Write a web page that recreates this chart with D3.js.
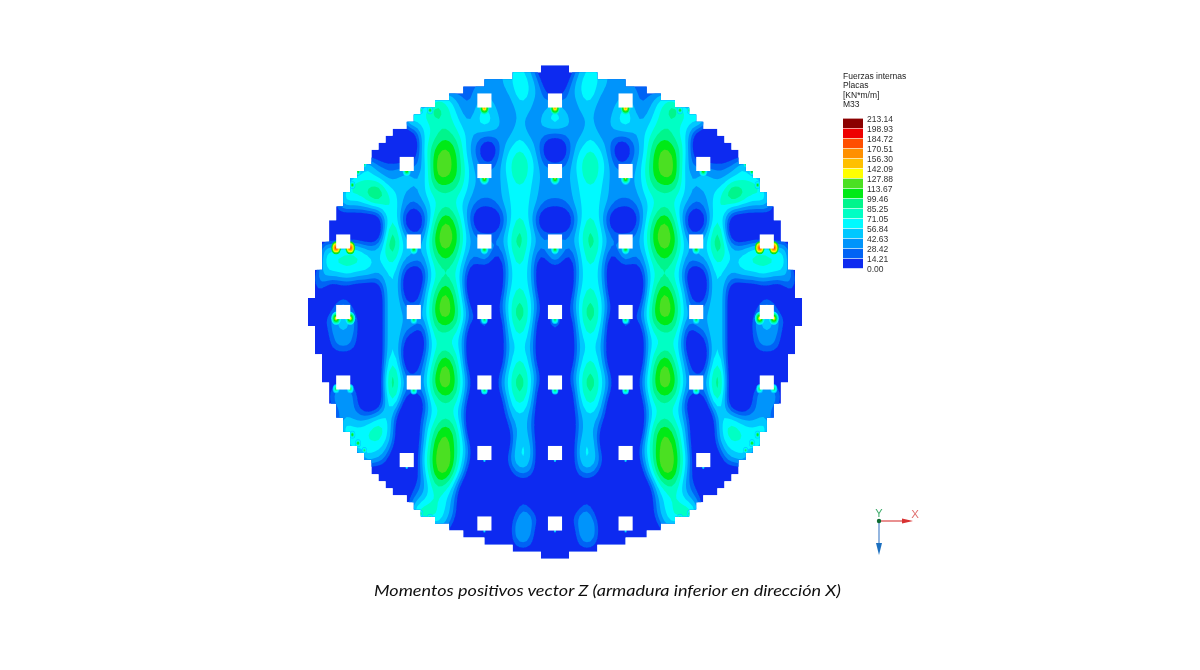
<!DOCTYPE html>
<html><head><meta charset="utf-8">
<style>html,body{margin:0;padding:0;background:#fff}svg{display:block}</style>
<script src="https://cdn.jsdelivr.net/npm/d3@7/dist/d3.min.js"></script>
</head><body><svg id="c" width="1200" height="670"></svg>
<script>
// Legend values (kN*m/m)
const legendBreaks = [0.00,14.21,28.42,42.63,56.84,71.05,85.25,99.46,113.67,127.88,142.09,156.30,170.51,184.72,198.93,213.14];
const legendColors = ["#0a2cf0","#0064f5","#0094fb","#00c8ff","#00faff","#00ffc4","#00f58c","#00ea14","#4ce020","#ffff00","#ffc000","#ff9000","#ff5000","#ee0000","#8b0000"];
const legendTitle = ["Fuerzas internas","Placas","[KN*m/m]","M33"];
const caption = "Momentos positivos vector Z (armadura inferior en dirección X)";

// Left half of the plate, mirrored about the centre: one hex digit = the legend band read at that cell.
const fieldRows = [
"00000 00000 00000 00000 00000 11233 43100 0",
"00000 00000 00000 00000 00112 22234 44310 0",
"00000 00000 00000 00033 32112 22223 54321 0",
"00000 00000 00033 44686 53213 43212 33213 4",
"00000 00000 00006 54455 54324 54322 32234 5",
"00000 00000 00000 03456 65432 22222 42221 1",
"00000 00000 00000 03578 87421 00134 54310 0",
"00000 00063 21111 12489 87532 11245 65421 1",
"00000 06543 32234 32488 87532 32235 55323 3",
"00000 65568 95432 23455 55432 22234 44322 2",
"00003 33334 45532 12345 54321 11234 44321 1",
"00000 00000 03530 00358 86410 00024 54200 0",
"00000 00000 04842 11479 88431 11235 75321 1",
"00444 55533 35843 42478 87422 42135 74313 4",
"00355 55554 34532 21356 65311 21024 54201 2",
"02333 44333 23430 00345 54300 00024 44200 0",
"01100 00000 03430 01458 85300 00034 54300 0",
"00002 32000 03431 11479 87310 00135 75310 0",
"00123 43200 03432 42478 87411 41035 75302 4",
"00012 22100 03431 10355 54300 10024 54200 1",
"00012 32100 03430 00345 44300 00023 43200 0",
"00000 00000 03530 01358 85300 00024 54200 0",
"00000 00000 04841 11479 87310 10135 75310 1",
"00013 33100 04841 31478 87310 30135 75301 3",
"00012 22100 03530 00345 54300 00024 54200 0",
"00001 22223 44300 01345 54200 00013 33100 0",
"00000 84455 74300 01468 86300 00002 33100 0",
"00000 08544 43200 02488 86410 00002 44200 0",
"00000 00053 32000 03589 96310 10013 44200 1",
"00000 00000 00001 02488 84300 00001 22100 0",
"00000 00000 00000 11355 42000 00000 00000 0",
"00000 00000 00001 23454 31000 00000 11000 0",
"00000 00000 00000 68754 31000 00001 23210 0",
"00000 00000 00000 00032 10000 00002 33100 0",
"00000 00000 00000 00000 00000 00001 22100 0",
"00000 00000 00000 00000 00000 00000 00000 0"
];
// Deep-blue cells stand for negative moments, which the legend clips at 0.00.
const clippedMoment = -30;

// Half-width of the stepped plate edge, per mesh row from top to bottom (mesh units).
const plateHalfWidths = [2,6,10,13,15,17,19,20,21,23,24,25,26,26,27,28,29,29,30,30,31,31,32,32,32,33,33,33,33,34,34,34,34,35,35,35,35,34,34,34,34,33,33,33,33,32,32,32,31,31,30,30,29,29,28,27,26,26,25,24,23,21,20,19,17,15,13,10,6,2];

// Slab openings in mesh units: row position, column positions, peak band at the opening's lower edge.
const openingRows = [
 {y:-30, xs:[-10,0,10], peak:11},
 {y:-20, xs:[-10,0,10], peak:9},
 {y:-21, xs:[-21,21], peak:8},
 {y:-10, xs:[-20,-10,0,10,20], peak:8},
 {y:0,   xs:[-20,-10,0,10,20], peak:7},
 {y:10,  xs:[-20,-10,0,10,20], peak:7},
 {y:20,  xs:[-10,0,10], peak:4},
 {y:21,  xs:[-21,21], peak:4},
 {y:30,  xs:[-10,0,10], peak:4}
];
const edgeOpenings = [ {y:-10, peak:13}, {y:0, peak:10}, {y:10, peak:7} ];
const edgeOpeningX = [-30,30];
// Small peaks along the stepped edge (left side, mirrored).
const edgePeaks = [[-28.7,-18,8],[-27.9,-19.9,8],[-27,-20.9,7],[-19.1,-28.6,8],[-17.7,-28.6,8],[-28.7,17.4,8],[-27.9,18.6,8],[-27,19.6,7],[-19.1,28.6,8],[-17.7,29.2,8]];

const svg = d3.select("#c");
const defs = svg.append("defs");
defs.append("filter").attr("id","soft").attr("x","-5%").attr("y","-5%").attr("width","110%").attr("height","110%")
  .append("feGaussianBlur").attr("stdDeviation",0.45);

const x = d3.scaleLinear().domain([-35,35]).range([555-35*7.06,555+35*7.06]);
const y = d3.scaleLinear().domain([-35,35]).range([312-35*7.05,312+35*7.05]);
const bandColor = d3.scaleThreshold().domain(legendBreaks.slice(1,-1)).range(legendColors);
const bandMoment = l => l===0 ? clippedMoment : (l+0.5)*14.21;

// field values
const half = fieldRows.map(r => Array.from(r.replace(/ /g,""), c => bandMoment(parseInt(c,16))));
const grid = half.map(r => r.concat(r.slice(0,-1).reverse()));
const ny0 = grid.length, nx0 = grid[0].length;
// refine the mesh linearly so the contour bands come out rounded
const sx = 2, sy = 4;
const nx = (nx0-1)*sx+1, ny = (ny0-1)*sy+1;
const values = new Array(nx*ny);
for (let j=0;j<ny;j++) for (let i=0;i<nx;i++){
  const fx=i/sx, fy=j/sy, i0=Math.min(nx0-2,Math.floor(fx)), j0=Math.min(ny0-2,Math.floor(fy)), tx=fx-i0, ty=fy-j0;
  values[j*nx+i]=d3.interpolateNumber(
    d3.interpolateNumber(grid[j0][i0],grid[j0][i0+1])(tx),
    d3.interpolateNumber(grid[j0+1][i0],grid[j0+1][i0+1])(tx))(ty);
}
const field = {data:values,width:nx,height:ny};
if (d3.blur2) d3.blur2(field,0.8,1.5);

// clip: stepped plate outline
const leftEdge=[], rightEdge=[];
plateHalfWidths.forEach((w,i)=>{
  const t=-35+i,b=t+1;
  leftEdge.push([x(-w),y(t)],[x(-w),y(b)]);
  rightEdge.push([x(w),y(t)],[x(w),y(b)]);
});
const outline = leftEdge.concat(rightEdge.reverse());
defs.append("clipPath").attr("id","plate").append("path").attr("d",d3.line()(outline)+"Z");

const plot = svg.append("g").attr("filter","url(#soft)");
const inner = plot.append("g").attr("clip-path","url(#plate)");
inner.append("path").attr("d",d3.line()(outline)+"Z").attr("fill",legendColors[0]);

const project = d3.geoTransform({point(px,py){ this.stream.point(x((px-0.5)/sx-35), y(2*(py-0.5)/sy-35)); }});
const path = d3.geoPath(project);
const contours = d3.contours().size([nx,ny]).smooth(true).thresholds(legendBreaks.slice(1,-1))(field.data);
inner.selectAll("path.band").data(contours).join("path").attr("class","band")
  .attr("d",path).attr("fill",d=>bandColor(d.value+0.01));

// local peaks under the openings and along the edge
const spots=[];
openingRows.forEach(r=>r.xs.forEach(v=>spots.push({x:v,y:r.y+1.05,peak:r.peak,k:1})));
edgeOpenings.forEach(r=>edgeOpeningX.forEach(v=>[-1,1].forEach(s=>spots.push({x:v+s,y:r.y+0.9,peak:r.peak,k:1}))));
edgePeaks.forEach(p=>[-1,1].forEach(s=>spots.push({x:p[0]*s,y:p[1],peak:p[2],k:0.7})));
spots.forEach(s=>{
  d3.range(Math.max(3,s.peak-6),s.peak+1).forEach(l=>{
    inner.append("ellipse").attr("cx",x(s.x)).attr("cy",y(s.y))
      .attr("rx",(s.peak-l+0.5)*0.75*s.k).attr("ry",(s.peak-l+0.5)*s.k).attr("fill",bandColor(bandMoment(l)));
  });
});

// openings
const squares=[];
openingRows.forEach(r=>r.xs.forEach(v=>squares.push([v,r.y])));
edgeOpenings.forEach(r=>edgeOpeningX.forEach(v=>squares.push([v,r.y])));
plot.selectAll("rect.op").data(squares).join("rect").attr("class","op")
  .attr("x",d=>x(d[0]-1)).attr("y",d=>y(d[1]-1)).attr("width",x(1)-x(-1)).attr("height",y(1)-y(-1)).attr("fill","#fff");

// legend
const soft = svg.append("g").attr("filter","url(#soft)");
const ly = d3.scaleLinear().domain([0,213.14]).range([268.5,118.3]);
const lg = soft.append("g");
lg.selectAll("rect").data(legendColors).join("rect")
  .attr("x",843).attr("width",20)
  .attr("y",(d,i)=>ly(legendBreaks[i+1])+0.3)
  .attr("height",(d,i)=>ly(legendBreaks[i])-ly(legendBreaks[i+1])-0.6)
  .attr("fill",d=>d);
lg.selectAll("text.v").data(legendBreaks).join("text").attr("class","v")
  .attr("x",867).attr("y",d=>ly(d)+3.2)
  .attr("font-family","Liberation Sans").attr("font-size",8.5).attr("fill","#333")
  .text(d=>d.toFixed(2));
lg.selectAll("text.h").data(legendTitle).join("text").attr("class","h")
  .attr("x",843).attr("y",(d,i)=>78.5+i*9.6)
  .attr("font-family","Liberation Sans").attr("font-size",8.5).attr("fill","#222")
  .text(d=>d);

// axis triad
const tri = soft.append("g");
tri.append("line").attr("x1",879).attr("y1",521).attr("x2",906).attr("y2",521).attr("stroke","#e06060").attr("stroke-width",1.4);
tri.append("path").attr("d","M902,518.5L913,521L902,523.5Z").attr("fill","#d83030");
tri.append("line").attr("x1",879).attr("y1",521).attr("x2",879).attr("y2",548).attr("stroke","#7aa4d8").attr("stroke-width",1.6);
tri.append("path").attr("d","M876,543L879,555L882,543Z").attr("fill","#1f70c0");
tri.append("circle").attr("cx",879).attr("cy",521).attr("r",2.2).attr("fill","#0a6a30");
tri.append("text").attr("x",879).attr("y",517).attr("text-anchor","middle").attr("font-family","Liberation Sans").attr("font-size",11).attr("fill","#3cab6a").text("Y");
tri.append("text").attr("x",915).attr("y",517.5).attr("text-anchor","middle").attr("font-family","Liberation Sans").attr("font-size",11.5).attr("fill","#e07070").text("X");

// caption
soft.append("text").attr("x",374).attr("y",595.5)
  .attr("font-family","Lato").attr("font-style","italic").attr("font-size",16.3).attr("fill","#111")
  .attr("textLength",467).attr("lengthAdjust","spacingAndGlyphs")
  .text(caption);
</script></body></html>
